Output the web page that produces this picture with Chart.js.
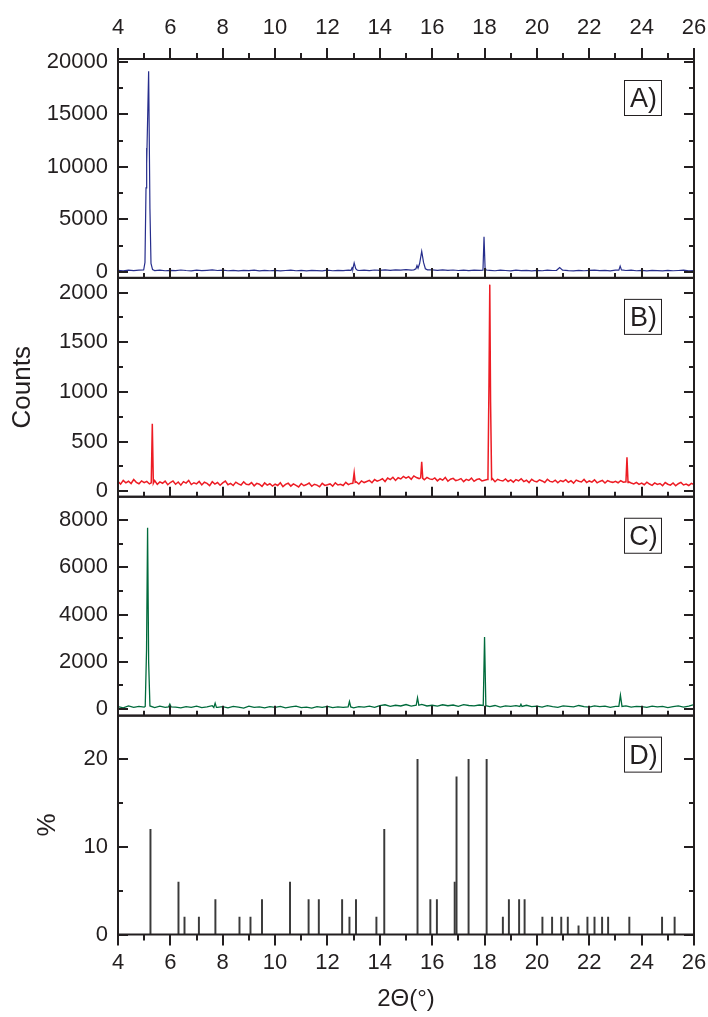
<!DOCTYPE html>
<html>
<head>
<meta charset="utf-8">
<script src="https://cdn.jsdelivr.net/npm/chart.js@4.4.1/dist/chart.umd.min.js"></script>
<style>
  html, body { margin: 0; padding: 0; background: #ffffff; }
  #wrap { width: 708px; height: 1017px; }
</style>
</head>
<body>
<div id="wrap"><canvas id="xrdChart" width="708" height="1017"></canvas></div>
<script>
const X_MIN = 4;
const X_MAX = 26;
const xMajor = [4, 6, 8, 10, 12, 14, 16, 18, 20, 22, 24, 26];
const xMinor = [5, 7, 9, 11, 13, 15, 17, 19, 21, 23, 25];

// panel A (blue): baseline read every 0.2 deg from 4 to 26, then peaks
const stepA = 0.2;
const scanA = [
  150, 110, 170, 120, 160, 140, 150, 130, 170, 110,
  150, 120, 180, 130, 100, 160, 120, 150, 190, 130,
  170, 110, 140, 100, 150, 120, 160, 90, 140, 110,
  150, 100, 130, 170, 110, 140, 90, 150, 120, 100,
  160, 110, 140, 120, 170, 150, 130, 160, 120, 180,
  140, 190, 150, 200, 160, 210, 170, 180, 190, 200,
  190, 150, 200, 140, 180, 130, 170, 120, 160, 140,
  150, 150, 110, 170, 130, 100, 160, 120, 150, 90,
  140, 110, 170, 130, 150, 160, 120, 100, 150, 110,
  140, 170, 120, 150, 100, 160, 150, 130, 170, 110,
  140, 100, 150, 120, 90, 140, 110, 130, 160, 100,
  120
];
const peaksA = [
  [[4.98, 180], [5.03, 900], [5.07, 8000], [5.09, 11800], [5.1, 10300], [5.17, 19100], [5.22, 6000], [5.26, 800], [5.32, 220]],
  [[12.9, 150], [12.94, 400], [12.97, 300], [13.02, 850], [13.08, 300], [13.14, 160]],
  [[15.3, 190], [15.38, 300], [15.42, 600], [15.46, 350], [15.52, 800], [15.6, 1950], [15.67, 900], [15.74, 300], [15.82, 190]],
  [[17.94, 170], [17.98, 3350], [18.02, 400], [18.06, 180]],
  [[20.75, 150], [20.87, 420], [20.98, 170]],
  [[23.13, 160], [23.18, 550], [23.23, 190]]
];

// panel B (red): baseline every 0.1 deg
const stepB = 0.1;
const scanB = [
  98, 72, 110, 85, 101, 78, 118, 90, 76, 104,
  86, 99, 74, 92, 108, 70, 95, 81, 103, 66,
  88, 104, 71, 93, 62, 97, 83, 110, 68, 86,
  75, 99, 64, 91, 80, 57, 96, 73, 88, 61,
  84, 102, 66, 79, 58, 92, 74, 63, 95, 70,
  67, 88, 55, 80, 71, 49, 84, 62, 76, 53,
  73, 58, 86, 47, 69, 81, 52, 75, 60, 44,
  78, 56, 68, 83, 50, 71, 62, 45, 80, 59,
  66, 74, 52, 85, 63, 70, 58, 90, 67, 79,
  82, 95, 73, 104, 88, 99, 110, 86, 118, 102,
  112, 126, 98, 133, 117, 141, 109, 136, 124, 150,
  132, 147, 121, 155, 138, 128, 149, 116, 140, 125,
  118, 134, 105, 126, 112, 140, 101, 122, 130, 108,
  115, 128, 97, 120, 109, 133, 100, 118, 125, 104,
  112, 119, 108, 127, 96, 121, 110, 103, 124, 99,
  114, 92, 118, 105, 126, 98, 111, 87, 120, 102,
  95, 116, 104, 89, 121, 100, 93, 112, 85, 108,
  98, 117, 90, 106, 82, 113, 101, 94, 119, 88,
  104, 92, 115, 85, 99, 110, 83, 107, 96, 90,
  101, 86, 108, 92, 79, 97, 84, 74, 90, 70,
  82, 66, 91, 73, 60, 85, 69, 78, 57, 88,
  71, 62, 84, 55, 76, 90, 64, 72, 58, 80,
  68
];
const peaksB = [
  [[5.27, 85], [5.31, 680], [5.35, 80]],
  [[12.97, 80], [13.02, 186], [13.06, 90]],
  [[15.56, 135], [15.6, 297], [15.64, 130]],
  [[18.13, 125], [18.17, 1100], [18.2, 2080], [18.23, 900], [18.27, 120]],
  [[23.4, 95], [23.44, 341], [23.48, 88]]
];

// panel C (green): baseline every 0.2 deg
const stepC = 0.2;
const scanC = [
  90, 40, 120, 60, 100, 70, 80, 50, 110, 60,
  150, 70, 40, 90, 60, 110, 50, 80, 130, 60,
  90, 40, 100, 70, 30, 110, 60, 80, 40, 90,
  60, 100, 40, 80, 110, 50, 70, 30, 90, 60,
  100, 50, 80, 60, 120, 40, 90, 70, 110, 60,
  130, 170, 100, 150, 120, 180, 110, 160, 190, 120,
  150, 110, 170, 130, 160, 100, 180, 140, 120, 160,
  110, 90, 140, 70, 120, 100, 130, 80, 150, 90,
  110, 70, 130, 90, 60, 120, 100, 80, 140, 90,
  70, 120, 90, 110, 60, 100, 80, 120, 70, 100,
  90, 60, 110, 80, 100, 50, 90, 120, 70, 110,
  180
];
const peaksC = [
  [[5.04, 100], [5.09, 2500], [5.13, 7680], [5.17, 2000], [5.22, 120]],
  [[5.93, 80], [5.98, 200], [6.03, 80]],
  [[7.66, 60], [7.71, 240], [7.76, 60]],
  [[12.79, 80], [12.84, 310], [12.89, 80]],
  [[15.39, 150], [15.44, 470], [15.49, 150]],
  [[17.95, 140], [18.0, 3050], [18.05, 130]],
  [[19.35, 100], [19.39, 190], [19.43, 100]],
  [[23.13, 100], [23.19, 580], [23.25, 100]]
];

// panel D: reference pattern, position (2theta) and relative intensity (%)
const refPos = [5.24, 6.31, 6.54, 7.09, 7.72, 8.64, 9.06, 9.5, 10.57, 11.28, 11.67, 12.56, 12.84, 13.09, 13.87, 14.17,
  15.44, 15.93, 16.18, 16.86, 16.93, 17.39, 18.08, 18.7, 18.93, 19.32, 19.53, 20.21, 20.58, 20.93, 21.18, 21.59,
  21.93, 22.2, 22.49, 22.72, 23.53, 24.78, 25.26];
const refPct = [12, 6, 2, 2, 4, 2, 2, 4, 6, 4, 4, 4, 2, 4, 2, 12,
  20, 4, 4, 6, 18, 20, 20, 2, 4, 4, 4, 2, 2, 2, 2, 1,
  2, 2, 2, 2, 2, 2, 2];

const ticksA = [0, 5000, 10000, 15000, 20000];
const minorA = [2500, 7500, 12500, 17500];
const ticksB = [0, 500, 1000, 1500, 2000];
const minorB = [250, 750, 1250, 1750];
const ticksC = [0, 2000, 4000, 6000, 8000];
const minorC = [1000, 3000, 5000, 7000];
const ticksD = [0, 10, 20];
const minorD = [5, 15];

const INK = "#231f20";
const FONT = "'Liberation Sans', Arial, Helvetica, sans-serif";

function buildScan(base, step, peaks) {
  const points = [];

  base.forEach(function (y, i) {
    const x = X_MIN + i * step;
    const covered = peaks.some(function (group) {
      return x >= group[0][0] - 0.001 && x <= group[group.length - 1][0] + 0.001;
    });

    if (!covered) {
      points.push({ x: x, y: y });
    }
  });

  peaks.forEach(function (group) {
    group.forEach(function (p) {
      points.push({ x: p[0], y: p[1] });
    });
  });

  return points.sort(function (a, b) {
    return a.x - b.x;
  });
}

const panels = [
  { id: "yA", major: ticksA, minor: minorA, tag: "A)" },
  { id: "yB", major: ticksB, minor: minorB, tag: "B)" },
  { id: "yC", major: ticksC, minor: minorC, tag: "C)" },
  { id: "yD", major: ticksD, minor: minorD, tag: "D)" }
];

function tickFont(size) {
  return { family: FONT, size: size };
}

function clearPadding(scale) {
  scale.paddingTop = 0;
  scale.paddingBottom = 0;
  scale.paddingLeft = 0;
  scale.paddingRight = 0;
}

function panelScale(range, majors, weight, title) {
  return {
    type: "linear",
    position: "left",
    stack: "panels",
    stackWeight: 1,
    weight: weight,
    min: range[0],
    max: range[1],
    grid: { display: false, drawTicks: false },
    border: { display: false },
    afterBuildTicks: function (scale) {
      scale.ticks = majors.map(function (v) {
        return { value: v };
      });
    },
    afterFit: function (scale) {
      scale.width = 118;
      clearPadding(scale);
    },
    ticks: {
      padding: 10,
      color: INK,
      font: tickFont(22),
      callback: function (value) {
        return String(value);
      }
    },
    title: title
  };
}

function xScale(position, height, padding, title) {
  return {
    type: "linear",
    position: position,
    min: X_MIN,
    max: X_MAX,
    offset: false,
    grid: { display: false, drawTicks: false, offset: false },
    border: { display: false },
    afterBuildTicks: function (scale) {
      scale.ticks = xMajor.map(function (v) {
        return { value: v };
      });
    },
    afterFit: function (scale) {
      scale.height = height;
      clearPadding(scale);
    },
    ticks: {
      autoSkip: false,
      maxRotation: 0,
      padding: padding,
      color: INK,
      font: tickFont(22),
      callback: function (value) {
        return String(value);
      }
    },
    title: title
  };
}

// frame, inward/outward tick marks and panel tags
const framePlugin = {
  id: "panelFrames",
  afterDraw: function (chart) {
    const ctx = chart.ctx;
    const area = chart.chartArea;
    const xs = chart.scales.x;

    ctx.save();
    ctx.strokeStyle = INK;
    ctx.lineWidth = 2;

    panels.forEach(function (panel, index) {
      const s = chart.scales[panel.id];
      const top = s.top;
      const bottom = s.bottom;

      ctx.strokeRect(area.left, top, area.right - area.left, bottom - top);

      ctx.beginPath();
      panel.major.concat(panel.minor).forEach(function (v) {
        const len = panel.major.indexOf(v) >= 0 ? 10 : 5;
        const py = Math.round(s.getPixelForValue(v));

        ctx.moveTo(area.left, py);
        ctx.lineTo(area.left + len, py);
        ctx.moveTo(area.right, py);
        ctx.lineTo(area.right - len, py);
      });

      xMajor.concat(xMinor).forEach(function (v) {
        const isMajor = xMajor.indexOf(v) >= 0;
        const px = Math.round(xs.getPixelForValue(v));

        if (index < 3) {
          ctx.moveTo(px, bottom);
          ctx.lineTo(px, bottom - (isMajor ? 10 : 5));
        } else {
          ctx.moveTo(px, bottom);
          ctx.lineTo(px, bottom + (isMajor ? 11 : 6));
        }

        if (index === 0) {
          ctx.moveTo(px, top);
          ctx.lineTo(px, top - (isMajor ? 11 : 6));
        }
      });
      ctx.stroke();

      const boxW = 37;
      const boxH = 35;
      const bx = area.right - 33 - boxW;
      const by = top + 21;

      ctx.lineWidth = 1;
      ctx.strokeRect(bx + 0.5, by + 0.5, boxW, boxH);
      ctx.lineWidth = 2;
      ctx.fillStyle = INK;
      ctx.font = "27px " + FONT;
      ctx.textAlign = "center";
      ctx.textBaseline = "middle";
      ctx.fillText(panel.tag, bx + boxW / 2 + 1, by + boxH / 2 + 2);
    });

    ctx.restore();
  }
};

const canvas = document.getElementById("xrdChart");

new Chart(canvas, {
  type: "line",
  data: {
    datasets: [
      {
        label: "A",
        data: buildScan(scanA, stepA, peaksA),
        xAxisID: "x",
        yAxisID: "yA",
        borderColor: "#262d8c",
        borderWidth: 1.2,
        pointRadius: 0,
        tension: 0
      },
      {
        label: "B",
        data: buildScan(scanB, stepB, peaksB),
        xAxisID: "x",
        yAxisID: "yB",
        borderColor: "#ed1c24",
        borderWidth: 1.5,
        pointRadius: 0,
        tension: 0
      },
      {
        label: "C",
        data: buildScan(scanC, stepC, peaksC),
        xAxisID: "x",
        yAxisID: "yC",
        borderColor: "#006b3c",
        borderWidth: 1.3,
        pointRadius: 0,
        tension: 0
      },
      {
        type: "bar",
        label: "D",
        data: refPos.map(function (pos, i) {
          return { x: pos, y: refPct[i] };
        }),
        xAxisID: "x",
        yAxisID: "yD",
        backgroundColor: "#3a3a3a",
        barThickness: 1.3,
        grouped: false
      }
    ]
  },
  options: {
    responsive: false,
    animation: false,
    events: [],
    layout: {
      padding: { left: 0, right: 14, top: 0, bottom: 0 }
    },
    plugins: {
      legend: { display: false },
      tooltip: { enabled: false }
    },
    scales: {
      x: xScale("bottom", 82.5, 15, {
        display: true,
        text: "2\u0398(\u00b0)",
        color: INK,
        font: tickFont(24),
        padding: { top: 0, bottom: 3 }
      }),
      xTop: xScale("top", 59, 18, { display: false }),
      yA: panelScale([-570, 20260], ticksA, 4, { display: false }),
      yB: panelScale([-55, 2148], ticksB, 3, {
        display: true,
        text: "Counts",
        color: INK,
        font: tickFont(26),
        padding: { top: 7, bottom: 0 }
      }),
      yC: panelScale([-290, 9000], ticksC, 2, { display: false }),
      yD: panelScale([0, 25], ticksD, 1, {
        display: true,
        text: "%",
        color: INK,
        font: tickFont(26),
        padding: { top: 32, bottom: 0 }
      })
    }
  },
  plugins: [framePlugin]
});
</script>
</body>
</html>
